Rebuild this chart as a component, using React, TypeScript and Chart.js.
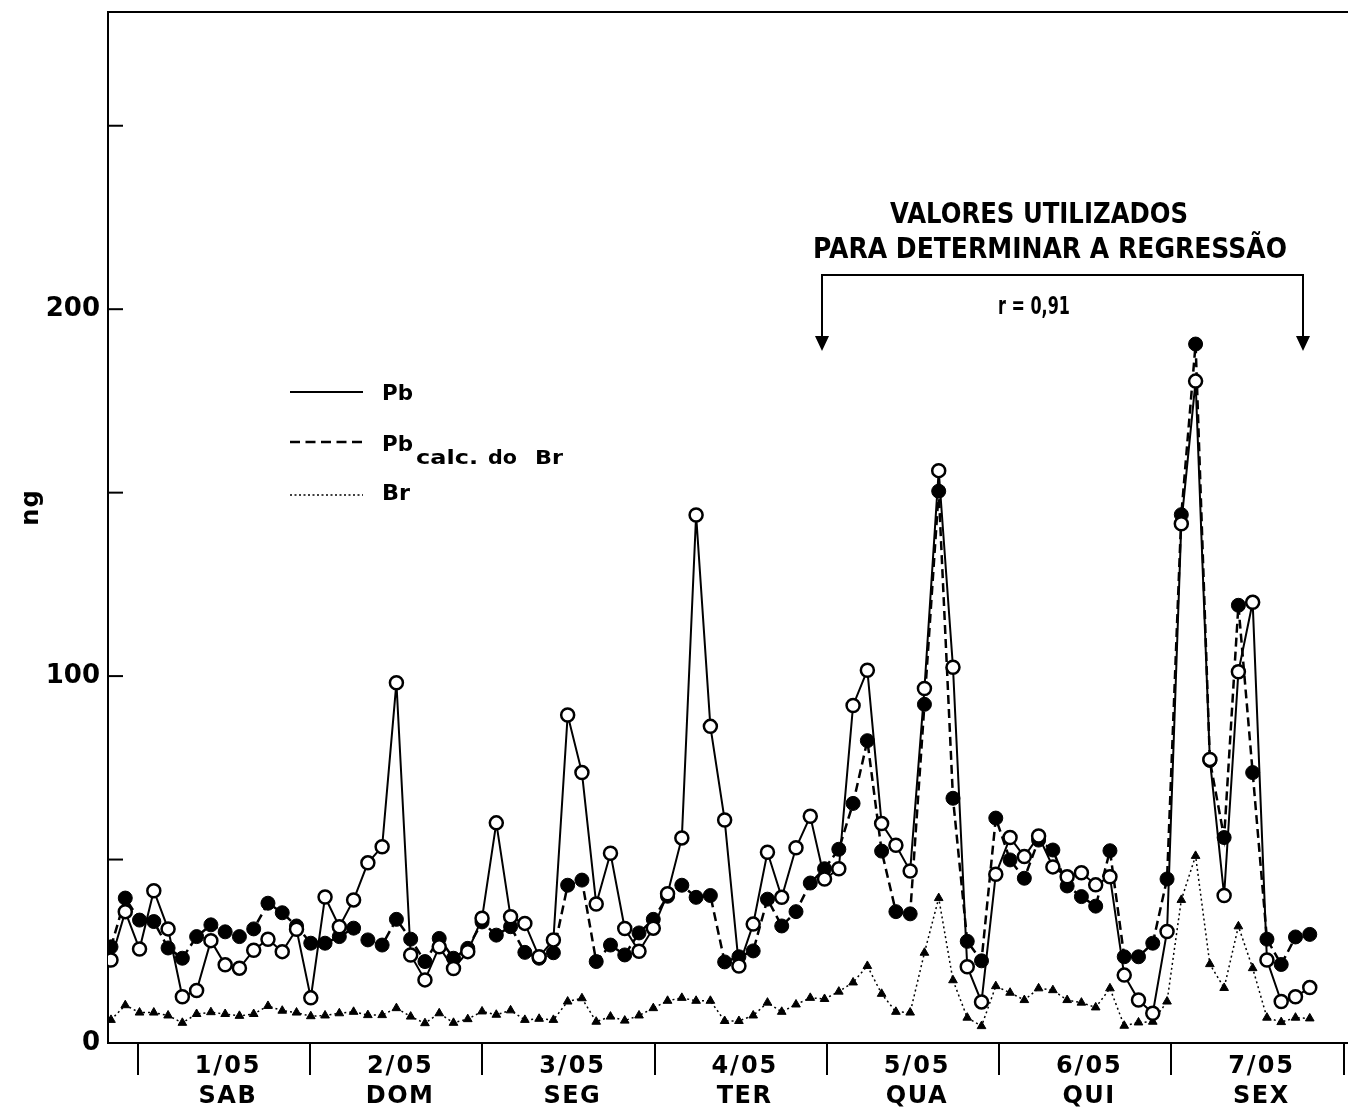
import React, { useEffect, useRef } from 'react';
import { Chart, registerables } from 'chart.js';

Chart.register(...registerables);

// ---- data (2-hourly samples) ----
const DAY_LABELS = ['1/05', '2/05', '3/05', '4/05', '5/05', '6/05', '7/05'];
const WEEKDAYS = ['SAB', 'DOM', 'SEG', 'TER', 'QUA', 'QUI', 'SEX'];
const Y_TICK_LABELS = [0, 100, 200];

const PB = [
  22.6, 35.8, 25.6, 41.5, 31.1, 12.6, 14.3, 27.9, 21.3, 20.4, 25.3, 28.3, 24.9, 31.0, 12.3,
  39.8, 31.7, 39.0, 49.1, 53.5, 98.2, 24.0, 17.2, 26.2, 20.3, 24.9, 34.0, 60.0, 34.4, 32.6,
  23.5, 28.1, 89.4, 73.7, 37.9, 51.7, 31.2, 25.0, 31.3, 40.7, 55.9, 143.9, 86.3, 60.8, 21.0,
  32.4, 52.0, 39.7, 53.2, 61.8, 44.7, 47.5, 92.0, 101.6, 59.8, 53.9, 46.9, 96.6, 156.0, 102.4,
  20.8, 11.2, 46.0, 56.0, 50.8, 56.4, 48.0, 45.3, 46.4, 43.1, 45.3, 18.5, 11.7, 8.1, 30.4,
  141.5, 180.4, 77.3, 40.2, 101.2, 120.1, 22.6, 11.3, 12.6, 15.1,
];

const PB_CALC = [
  26.2, 39.5, 33.5, 33.1, 25.9, 23.1, 29.0, 32.2, 30.3, 29.0, 31.1, 38.1, 35.5, 31.9, 27.2,
  27.2, 29.0, 31.3, 28.1, 26.7, 33.7, 28.3, 22.2, 28.5, 23.1, 25.8, 33.0, 29.4, 31.7, 24.7,
  23.1, 24.6, 43.0, 44.4, 22.2, 26.7, 24.0, 30.0, 33.7, 40.0, 43.0, 39.7, 40.2, 22.1, 23.5,
  25.1, 39.2, 31.9, 35.8, 43.6, 47.5, 52.8, 65.3, 82.4, 52.3, 35.8, 35.2, 92.3, 150.4, 66.7,
  27.7, 22.4, 61.3, 49.9, 44.9, 55.3, 52.6, 42.8, 39.9, 37.3, 52.4, 23.5, 23.5, 27.2, 44.7,
  144.0, 190.5, 77.0, 56.0, 119.3, 73.7, 28.3, 21.4, 28.9, 29.6,
];

const BR = [
  6.3, 10.3, 8.3, 8.3, 7.5, 5.5, 7.9, 8.4, 7.9, 7.4, 7.9, 10.1, 8.8, 8.3, 7.3,
  7.5, 8.1, 8.5, 7.6, 7.6, 9.5, 7.2, 5.4, 8.1, 5.5, 6.5, 8.6, 7.7, 8.9, 6.3,
  6.6, 6.3, 11.3, 12.2, 5.8, 7.2, 6.1, 7.5, 9.5, 11.5, 12.3, 11.5, 11.5, 6.0, 6.0,
  7.5, 11.0, 8.5, 10.5, 12.3, 12.0, 14.0, 16.5, 21.0, 13.4, 8.5, 8.3, 24.6, 39.5, 17.1,
  6.9, 4.6, 15.5, 13.7, 11.7, 14.9, 14.4, 11.7, 11.0, 9.7, 14.9, 4.7, 5.6, 5.8, 11.3,
  39.0, 51.0, 21.5, 15.0, 31.8, 20.4, 6.9, 5.7, 6.9, 6.7,
];

// sample index of the first midnight (1/05 00h) and samples per day
const FIRST_DAY_START = 1.89;
const SAMPLES_PER_DAY = 12.07;

const FONT = '"DejaVu Sans", "Liberation Sans", sans-serif';
const W = 1348;
const H = 1108;

function drawText(
  ctx: CanvasRenderingContext2D,
  s: string,
  x: number,
  y: number,
  size: number,
  align: 'left' | 'center' | 'right' = 'center',
  spacing = 0,
  targetWidth = 0
) {
  ctx.save();
  ctx.font = `bold ${size}px ${FONT}`;
  ctx.fillStyle = '#000';
  ctx.textBaseline = 'alphabetic';
  ctx.textAlign = 'left';
  (ctx as any).letterSpacing = `${spacing}px`;
  const raw = ctx.measureText(s).width - spacing;
  const sx = targetWidth > 0 ? targetWidth / raw : 1;
  const w = raw * sx;
  let x0 = x;
  if (align === 'center') x0 = x - w / 2;
  else if (align === 'right') x0 = x - w;
  ctx.translate(x0, y);
  ctx.scale(sx, 1);
  ctx.fillText(s, 0, 0);
  ctx.restore();
}

const decorPlugin = {
  id: 'decor',
  afterDraw(chart: any) {
    const ctx: CanvasRenderingContext2D = chart.ctx;
    const { left, right, top, bottom } = chart.chartArea;
    const xs = chart.scales.x;
    const ys = chart.scales.y;

    ctx.save();
    ctx.strokeStyle = '#000';
    ctx.fillStyle = '#000';

    // top frame line
    ctx.lineWidth = 2;
    ctx.beginPath();
    ctx.moveTo(left, top);
    ctx.lineTo(right, top);
    ctx.stroke();

    // inner y ticks every 50
    for (let v = 50; v <= 250; v += 50) {
      const py = ys.getPixelForValue(v);
      ctx.beginPath();
      ctx.moveTo(left, py);
      ctx.lineTo(left + 15, py);
      ctx.stroke();
    }

    // day labels
    DAY_LABELS.forEach((lab, k) => {
      const c = xs.getPixelForValue(FIRST_DAY_START + (k + 0.5) * SAMPLES_PER_DAY);
      drawText(ctx, lab, c + 3, bottom + 30, 24, 'center', 2);
      drawText(ctx, WEEKDAYS[k], c + 3, bottom + 60, 24, 'center', 1.5);
    });

    // y-axis title
    ctx.save();
    ctx.translate(38, 508);
    ctx.rotate(-Math.PI / 2);
    drawText(ctx, 'ng', 0, 0, 24, 'center', 1);
    ctx.restore();

    // legend
    const lx0 = 290;
    const lx1 = 363;
    ctx.lineWidth = 2;
    ctx.setLineDash([]);
    ctx.beginPath();
    ctx.moveTo(lx0, 392);
    ctx.lineTo(lx1, 392);
    ctx.stroke();
    ctx.lineWidth = 2.5;
    ctx.setLineDash([10, 5.5]);
    ctx.beginPath();
    ctx.moveTo(lx0, 442);
    ctx.lineTo(lx1, 442);
    ctx.stroke();
    ctx.lineWidth = 1.5;
    ctx.setLineDash([2, 2.5]);
    ctx.beginPath();
    ctx.moveTo(lx0, 495);
    ctx.lineTo(lx1, 495);
    ctx.stroke();
    ctx.setLineDash([]);
    drawText(ctx, 'Pb', 382, 400, 21, 'left', 0, 31);
    drawText(ctx, 'Pb', 382, 451, 21, 'left', 0, 31);
    drawText(ctx, 'calc.', 416, 464, 19, 'left', 0, 62);
    drawText(ctx, 'do', 488, 464, 19, 'left', 0, 29);
    drawText(ctx, 'Br', 535, 464, 19, 'left', 0, 28);
    drawText(ctx, 'Br', 382, 500, 21, 'left', 0, 28);

    // regression annotation
    drawText(ctx, 'VALORES UTILIZADOS', 1039, 223, 29, 'center', 0, 298);
    drawText(ctx, 'PARA DETERMINAR A REGRESSÃO', 1050, 258, 29, 'center', 0, 474);
    drawText(ctx, 'r = 0,91', 1034, 314, 24, 'center', 0, 72);

    const bx0 = 822;
    const bx1 = 1303;
    const by = 275;
    const tip = 351;
    ctx.lineWidth = 2;
    ctx.beginPath();
    ctx.moveTo(bx0, tip - 12);
    ctx.lineTo(bx0, by);
    ctx.lineTo(bx1, by);
    ctx.lineTo(bx1, tip - 12);
    ctx.stroke();
    [bx0, bx1].forEach((bx) => {
      ctx.beginPath();
      ctx.moveTo(bx - 7, tip - 15);
      ctx.lineTo(bx + 7, tip - 15);
      ctx.lineTo(bx, tip);
      ctx.closePath();
      ctx.fill();
    });

    ctx.restore();
  },
};

export default function App() {
  const ref = useRef<HTMLCanvasElement | null>(null);

  useEffect(() => {
    document.documentElement.style.overflow = 'hidden';
    document.body.style.margin = '0';
    document.body.style.overflow = 'hidden';
    document.body.style.background = '#fff';
    const canvas = ref.current;
    if (!canvas) return;

    const xs = PB.map((_, i) => i);
    const boundaries = DAY_LABELS.map((_, k) => FIRST_DAY_START + k * SAMPLES_PER_DAY).concat([
      FIRST_DAY_START + DAY_LABELS.length * SAMPLES_PER_DAY,
    ]);

    const chart = new Chart(canvas, {
      type: 'line',
      data: {
        datasets: [
          {
            label: 'Pb',
            data: xs.map((x, i) => ({ x, y: PB[i] })),
            borderColor: '#000',
            borderWidth: 2,
            pointStyle: 'circle',
            pointRadius: 6.5,
            pointBackgroundColor: '#fff',
            pointBorderColor: '#000',
            pointBorderWidth: 2.5,
            tension: 0,
            order: 0,
          },
          {
            label: 'Pb calc. do Br',
            data: xs.map((x, i) => ({ x, y: PB_CALC[i] })),
            borderColor: '#000',
            borderWidth: 2.5,
            borderDash: [9, 5],
            pointStyle: 'circle',
            pointRadius: 7,
            pointBackgroundColor: '#000',
            pointBorderColor: '#000',
            pointBorderWidth: 1,
            tension: 0,
            order: 1,
          },
          {
            label: 'Br',
            data: xs.map((x, i) => ({ x, y: BR[i] })),
            borderColor: '#000',
            borderWidth: 1.5,
            borderDash: [2, 3],
            pointStyle: 'triangle',
            pointRadius: 5,
            pointBackgroundColor: '#000',
            pointBorderColor: '#000',
            pointBorderWidth: 1,
            tension: 0,
            order: 2,
          },
        ],
      },
      options: {
        animation: false,
        responsive: false,
        maintainAspectRatio: false,
        devicePixelRatio: 1,
        layout: { autoPadding: false, padding: { top: 12, left: 0, right: 0, bottom: 0 } },
        plugins: {
          legend: { display: false },
          tooltip: { enabled: false },
        },
        scales: {
          x: {
            type: 'linear',
            min: -0.21,
            max: 86.68,
            afterBuildTicks: (scale: any) => {
              scale.ticks = boundaries.map((v) => ({ value: v }));
            },
            afterFit: (scale: any) => {
              scale.height = 65;
              scale.paddingLeft = 0;
              scale.paddingRight = 0;
            },
            ticks: { callback: () => '', autoSkip: false },
            grid: {
              display: true,
              drawOnChartArea: false,
              drawTicks: true,
              tickLength: 32,
              tickColor: '#000',
              tickWidth: 2,
              color: '#000',
              lineWidth: 2,
            },
            border: { display: true, color: '#000', width: 2 },
          },
          y: {
            type: 'linear',
            min: 0,
            max: 281,
            afterBuildTicks: (scale: any) => {
              scale.ticks = Y_TICK_LABELS.map((v) => ({ value: v }));
            },
            afterFit: (scale: any) => {
              scale.width = 108;
              scale.paddingTop = 0;
              scale.paddingBottom = 0;
            },
            ticks: {
              color: '#000',
              padding: 0,
              font: { family: FONT, size: 26, weight: 'bold' },
              callback: (v: any) => String(v),
            },
            grid: { display: false },
            border: { display: true, color: '#000', width: 2 },
          },
        },
      },
      plugins: [decorPlugin],
    });

    return () => chart.destroy();
  }, []);

  return (
    <div style={{ width: W, height: H, position: 'relative', background: '#fff', overflow: 'hidden' }}>
      <canvas ref={ref} width={W} height={H} style={{ display: 'block', width: W, height: H }} />
    </div>
  );
}
